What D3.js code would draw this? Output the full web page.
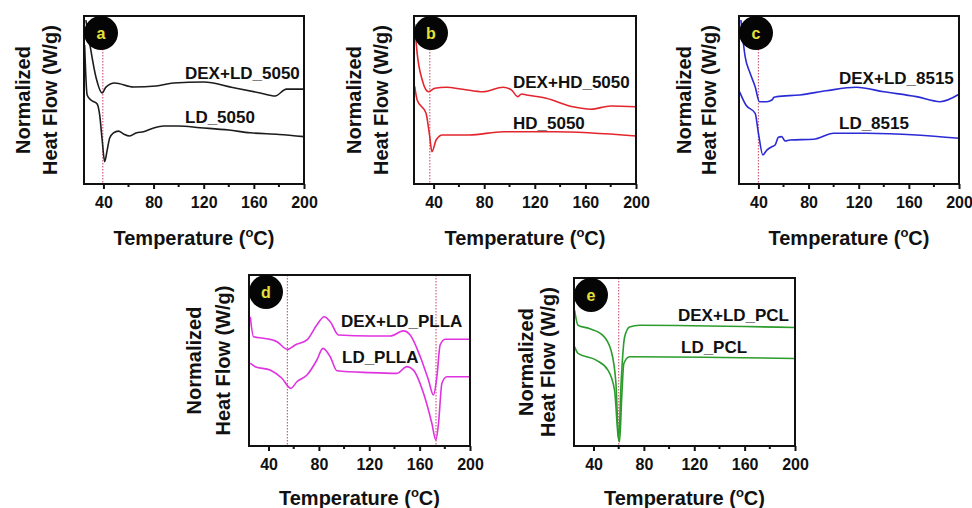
<!DOCTYPE html>
<html>
<head>
<meta charset="utf-8">
<script src="https://cdn.jsdelivr.net/npm/d3@7"></script>
<style>
  body { margin: 0; background: #fff; }
  svg { display: block; }
  text { font-family: "Liberation Sans", Arial, sans-serif; font-weight: bold; fill: #111; }
</style>
</head>
<body>
<script>
// temperature (°C), normalized heat flow (arb. units, 0-100 across the plot)
let dexLd5050 = [[26,97.6],[29,83.9],[34,63.7],[39,54.2],[42,57.7],[49,60.1],[64,57.7],[82,58.3],[96,60.1],[120,60.7],[143,57.4],[165,54.2],[177,52.4],[186,56.5],[200,56.5]]
let ld5050 = [[25,82.7],[27,53],[30,50],[35,47.6],[37,41.1],[39,26.2],[41,13.3],[43,20.2],[45,27.4],[48,30.4],[52,31.5],[56,29.8],[61,28.6],[66,30.4],[72,31.1],[80,33.3],[88,34.5],[100,34.5],[117,33.5],[140,32.1],[157,30.5],[180,29.5],[200,28.2]]

let dexHd5050 = [[25,95.2],[27,77.8],[31,61.9],[36,54.9],[41,57],[50,57.6],[63,56.4],[79,54.9],[95,57.6],[101.5,56],[106.7,52],[109.4,53.6],[113.4,53],[129,51],[150,46],[164,44.5],[180,46.4],[200,46]]
let hd5050 = [[25,58.3],[27,50],[34,42.1],[36.6,30.2],[38.7,19.2],[42,26.2],[47,29.2],[68,29.2],[95,31.1],[135,31.1],[200,28.6]]

let dexLd8515 = [[26,97.6],[29.4,75.8],[33.4,65.9],[37.4,57.9],[40.8,49],[46.7,49],[50.7,50],[52.5,51.6],[54.6,52],[73,53],[94,55.5],[118,57.6],[140,54.9],[166,52],[185,49],[200,53.4]]
let ld8515 = [[25,54.8],[30,47],[37.4,42.1],[40,30.2],[43.5,17.3],[46.7,20.2],[50.7,22.2],[53.3,23.2],[55.9,27.8],[58.6,28.2],[61.3,25.6],[65.2,26.2],[84,26.6],[100,30.2],[126,30.2],[166,29.2],[200,27.2]]

let dexLdPlla = [[25.5,75.6],[28.1,63.9],[36,63],[46.7,61],[55.1,56.5],[61.2,59.1],[70.5,62],[78.4,70.8],[84.2,75.6],[89,72.7],[95.6,64.9],[120.8,64.3],[136.7,64.3],[147.2,67.3],[152.5,64.9],[160.5,52.2],[167,38.6],[171,29.8],[173.7,40.5],[176.3,59.1],[180.3,62.4],[200,62.4]]
let ldPlla = [[25.5,48.4],[29.4,46.4],[41.3,44.4],[50.6,39.6],[57.8,33.7],[62.5,37.6],[70.5,41.5],[78.4,50.3],[83.2,57.1],[89,52.2],[94.3,44],[120.8,42.9],[142,42.5],[149.9,46.4],[155.1,44.4],[163.1,30.8],[169.7,13.3],[172.9,3.5],[175,13.3],[177.7,36.7],[181.6,40.5],[200,40.5]]

let dexLdPcl = [[25,80.8],[27.7,71.9],[36.6,69.9],[47.2,66],[53.9,57],[57.8,37.3],[60,3.6],[61.9,37.3],[64.7,64.9],[68.6,70.9],[76.6,71.9],[200,70.5]]
let ldPcl = [[25,59],[27.7,55.1],[42.1,51.1],[51.4,45.2],[56.7,33.3],[59.6,5.5],[60.7,2.6],[62.3,27.3],[64.1,49.1],[68.6,53.1],[200,52.1]]

let panelLetters = ['a', 'b', 'c', 'd', 'e']
let seriesNames = [
  ['DEX+LD_5050', 'LD_5050'],
  ['DEX+HD_5050', 'HD_5050'],
  ['DEX+LD_8515', 'LD_8515'],
  ['DEX+LD_PLLA', 'LD_PLLA'],
  ['DEX+LD_PCL', 'LD_PCL']
]
let seriesData = [
  [dexLd5050, ld5050],
  [dexHd5050, hd5050],
  [dexLd8515, ld8515],
  [dexLdPlla, ldPlla],
  [dexLdPcl, ldPcl]
]
let markerTemps = [[39.5], [37], [40], [55, 173], [60]]
let majorTicks = [40, 80, 120, 160, 200]
let minorTicks = [60, 100, 140, 180]

// layout only
let layout = [
  {l: 84, t: 16, r: 304, b: 184, color: '#1c1c1c', lab: [[101, 63], [101, 107]], yt: [-54, -27], xt: 61},
  {l: 414, t: 16, r: 636, b: 184, color: '#e3262e', lab: [[99, 72], [99, 113]], yt: [-53, -26], xt: 61},
  {l: 739, t: 16, r: 959, b: 184, color: '#2b2bd6', lab: [[100, 68], [100, 113]], yt: [-48, -23], xt: 61},
  {l: 249, t: 275, r: 470, b: 446, color: '#e032e0', lab: [[92, 52], [93, 88]], yt: [-48, -19], xt: 59},
  {l: 574, t: 278, r: 795, b: 446, color: '#2c9c2c', lab: [[104, 43], [107, 75]], yt: [-41, -19], xt: 59}
]

let svg = d3.select('body').append('svg')
  .attr('width', 972)
  .attr('height', 508)

layout.forEach(function (p, i) {
  let x = d3.scaleLinear().domain([24.5, 200]).range([p.l, p.r])
  let y = d3.scaleLinear().domain([0, 100]).range([p.b, p.t])
  let g = svg.append('g')

  g.selectAll('.marker').data(markerTemps[i]).enter()
    .append('line')
    .attr('x1', d => x(d)).attr('x2', d => x(d))
    .attr('y1', p.t).attr('y2', p.b)
    .attr('stroke', '#d0607a')
    .attr('stroke-width', 1.2)
    .attr('stroke-dasharray', '1.5,1.5')

  let line = d3.line()
    .x(d => x(d[0]))
    .y(d => y(d[1]))
    .curve(d3.curveMonotoneX)

  seriesData[i].forEach(function (s) {
    g.append('path')
      .attr('d', line(s))
      .attr('fill', 'none')
      .attr('stroke', p.color)
      .attr('stroke-width', 1.6)
  })

  g.append('rect')
    .attr('x', p.l).attr('y', p.t)
    .attr('width', p.r - p.l).attr('height', p.b - p.t)
    .attr('fill', 'none')
    .attr('stroke', '#111')
    .attr('stroke-width', 2)

  let ax = g.append('g').attr('transform', 'translate(0,' + p.b + ')')
    .call(d3.axisBottom(x).tickValues(majorTicks).tickSize(5).tickPadding(8).tickFormat(d3.format('d')))
  ax.select('.domain').remove()
  ax.selectAll('line').attr('stroke', '#111').attr('stroke-width', 2)
  ax.selectAll('text').attr('font-size', 16).attr('font-family', '"Liberation Sans", Arial, sans-serif').attr('fill', '#111')

  g.selectAll('.minor').data(minorTicks).enter()
    .append('line')
    .attr('x1', d => x(d)).attr('x2', d => x(d))
    .attr('y1', p.b).attr('y2', p.b + 3)
    .attr('stroke', '#111').attr('stroke-width', 2)

  seriesNames[i].forEach(function (name, j) {
    g.append('text')
      .attr('x', p.l + p.lab[j][0])
      .attr('y', p.t + p.lab[j][1])
      .attr('font-size', 17)
      .text(name)
  })

  let xt = g.append('text')
    .attr('x', (p.l + p.r) / 2)
    .attr('y', p.b + p.xt)
    .attr('text-anchor', 'middle')
    .attr('font-size', 20)
  xt.append('tspan').text('Temperature (')
  xt.append('tspan').attr('font-size', 13).attr('dy', -8).text('o')
  xt.append('tspan').attr('dy', 8).text('C)')

  let cy = (p.t + p.b) / 2
  ;['Normalized', 'Heat Flow (W/g)'].forEach(function (t, j) {
    g.append('text')
      .attr('transform', 'translate(' + (p.l + p.yt[j]) + ',' + cy + ') rotate(-90)')
      .attr('text-anchor', 'middle')
      .attr('font-size', 20)
      .text(t)
  })

  g.append('circle')
    .attr('cx', p.l + 17).attr('cy', p.t + 17)
    .attr('r', 17)
    .attr('fill', '#050505')
  g.append('text')
    .attr('x', p.l + 17).attr('y', p.t + 23)
    .attr('text-anchor', 'middle')
    .attr('font-size', 16)
    .style('fill', '#e6e03a')
    .text(panelLetters[i])
})
</script>
</body>
</html>
